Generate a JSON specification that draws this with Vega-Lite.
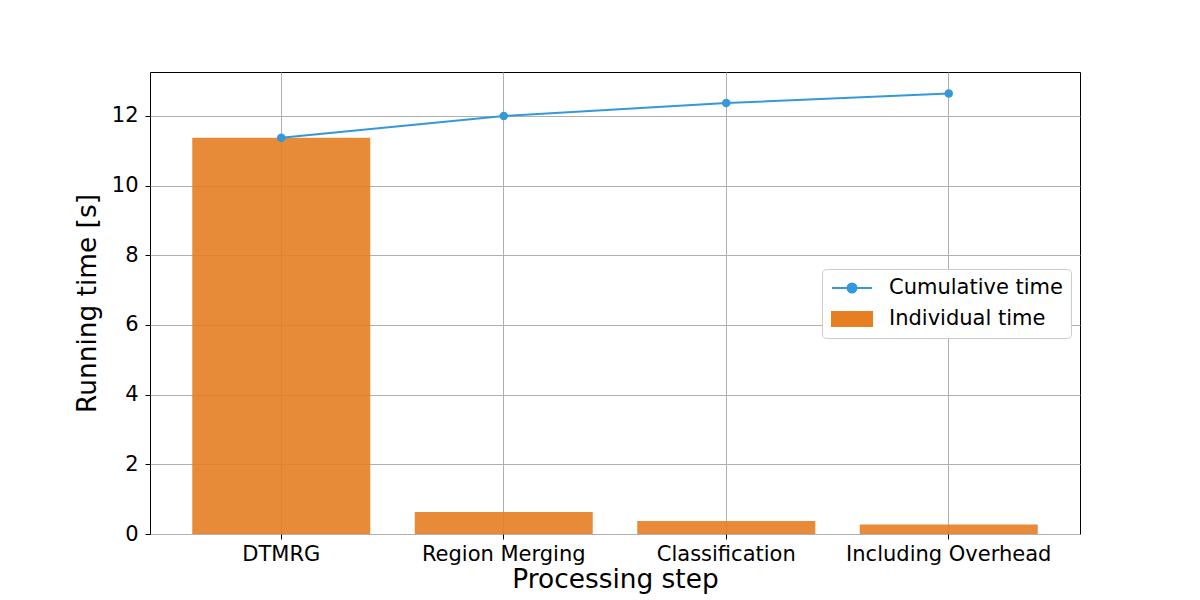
{
  "$schema": "https://vega.github.io/schema/vega-lite/v6.json",
  "autosize": "none",
  "width": 930,
  "height": 462,
  "padding": {"left": 150, "top": 72, "right": 120, "bottom": 66},
  "background": "white",
  "config": {
    "font": "DejaVu Sans",
    "view": {"stroke": "black", "strokeWidth": 1},
    "axis": {
      "labelFont": "DejaVu Sans",
      "titleFont": "DejaVu Sans",
      "labelFontSize": 21,
      "titleFontSize": 26.4,
      "titleFontWeight": "normal",
      "labelColor": "black",
      "titleColor": "black",
      "tickColor": "black",
      "tickSize": 5,
      "labelLimit": 0,
      "domain": false,
      "gridColor": "#b0b0b0",
      "gridWidth": 1,
      "gridOpacity": 1
    },
    "legend": {
      "orient": "none",
      "legendX": 672,
      "legendY": 197,
      "fillColor": "white",
      "strokeColor": "#cccccc",
      "cornerRadius": 4,
      "padding": 8,
      "labelFontSize": 21,
      "labelFont": "DejaVu Sans",
      "labelColor": "black",
      "labelLimit": 400,
      "labelOffset": 26,
      "rowPadding": 10,
      "symbolSize": 400,
      "symbolOffset": 11
    }
  },
  "data": {
    "values": [
      {"step": "DTMRG", "individual": 11.37, "cumulative": 11.37},
      {"step": "Region Merging", "individual": 0.63, "cumulative": 12.0},
      {"step": "Classification", "individual": 0.37, "cumulative": 12.37},
      {"step": "Including Overhead", "individual": 0.27, "cumulative": 12.64}
    ]
  },
  "encoding": {
    "x": {
      "field": "step",
      "type": "nominal",
      "sort": null,
      "scale": {"paddingInner": 0.2, "paddingOuter": 0.19},
      "axis": {
        "title": "Processing step",
        "labelAngle": 0,
        "bandPosition": 0.5,
        "grid": true,
        "labelPadding": 4,
        "titlePadding": 2
      }
    }
  },
  "layer": [
    {
      "mark": {"type": "bar", "opacity": 0.9},
      "encoding": {
        "y": {
          "field": "individual",
          "type": "quantitative",
          "scale": {"domain": [0, 13.26], "nice": false},
          "axis": {
            "title": "Running time [s]",
            "values": [0, 2, 4, 6, 8, 10, 12],
            "grid": true,
            "labelPadding": 7,
            "titlePadding": 10
          }
        },
        "color": {
          "datum": "Individual time",
          "scale": {"domain": ["Cumulative time", "Individual time"], "range": ["#3498db", "#e67e22"]},
          "legend": {
            "title": null,
            "symbolType": {"expr": "datum.value === 'Cumulative time' ? 'M-2,0H2M-0.45,0A0.45,0.45,0,1,0,0.45,0A0.45,0.45,0,1,0,-0.45,0' : 'M-2,-0.7H2V0.7H-2Z'"},
            "symbolFillColor": {"expr": "datum.value === 'Cumulative time' ? '#3498db' : '#e88b38'"},
            "symbolStrokeColor": {"expr": "datum.value === 'Cumulative time' ? '#3498db' : 'transparent'"},
            "symbolStrokeWidth": 2,
            "symbolOpacity": 1
          }
        }
      }
    },
    {
      "mark": {"type": "line", "strokeWidth": 2, "point": {"size": 72, "filled": true, "opacity": 1}},
      "encoding": {
        "y": {"field": "cumulative", "type": "quantitative"},
        "color": {"datum": "Cumulative time", "legend": null}
      }
    }
  ]
}
